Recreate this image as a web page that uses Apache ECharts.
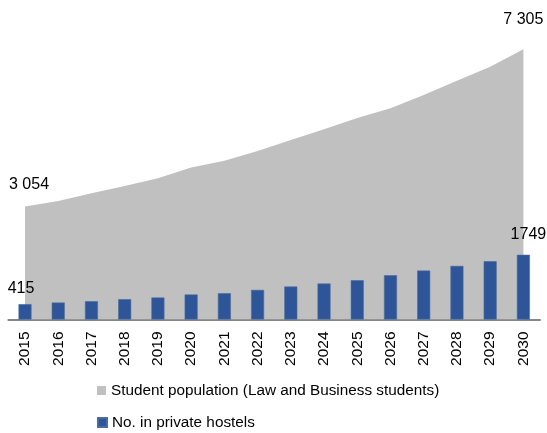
<!DOCTYPE html>
<html>
<head>
<meta charset="utf-8">
<script src="https://cdn.jsdelivr.net/npm/echarts@6/dist/echarts.min.js"></script>
<style>
html,body{margin:0;padding:0;background:#fff;}
#chart{width:547px;height:433px;}
</style>
</head>
<body>
<div id="chart"></div>
<script>
var years = ['2015','2016','2017','2018','2019','2020','2021','2022','2023','2024','2025','2026','2027','2028','2029','2030'];
var studentPopulation = [3054,3203,3410,3608,3816,4108,4292,4554,4851,5140,5446,5708,6068,6454,6832,7305];
var privateHostels = [415,459,495,549,595,676,711,800,892,973,1062,1197,1324,1449,1576,1749];
var seriesNames = ['Student population (Law and Business students)','No. in private hostels'];

function fmt(v){ return String(v).replace(/\B(?=(\d{3})+(?!\d))/g,' '); }

var areaData = studentPopulation.map(function(v,i){
  var item = {value:v};
  if(i===0){ item.label={show:true,position:'top',distance:14,offset:[4,0],formatter:function(p){return fmt(p.value);}}; }
  if(i===studentPopulation.length-1){ item.label={show:true,position:'top',distance:22,offset:[0,0],formatter:function(p){return fmt(p.value);}}; }
  return item;
});
var barData = privateHostels.map(function(v,i){
  var item = {value:v};
  if(i===0){ item.label={show:true,position:'top',distance:8,offset:[-4,0]}; }
  if(i===privateHostels.length-1){ item.label={show:true,position:'top',distance:12,offset:[5,0]}; }
  return item;
});

var legendText = {fontSize:15.3,color:'#000',fontFamily:'Liberation Sans, Arial, sans-serif'};
var chart = echarts.init(document.getElementById('chart'));
chart.setOption({
  animation:false,
  textStyle:{fontFamily:'Liberation Sans, Arial, sans-serif'},
  grid:{left:8.4,right:7,top:23.5,height:296,containLabel:false},
  xAxis:{
    type:'category',data:years,boundaryGap:true,
    axisLine:{show:true,lineStyle:{color:'#868686',width:2}},
    axisTick:{show:false},
    axisLabel:{rotate:90,margin:12,fontSize:15.5,color:'#000',fontFamily:'Liberation Sans, Arial, sans-serif'}
  },
  yAxis:{type:'value',min:0,max:8000,show:false,splitLine:{show:false}},
  legend:[
    {left:92,top:378,itemWidth:9,itemHeight:9,itemGap:4,textStyle:legendText,
     data:[{name:seriesNames[0],icon:'rect'}]},
    {left:92,top:410,itemWidth:9,itemHeight:9,itemGap:4,textStyle:legendText,
     data:[{name:seriesNames[1],icon:'rect'}]}
  ],
  series:[
    {
      name:seriesNames[0],type:'line',data:areaData,symbol:'circle',symbolSize:0.01,showSymbol:true,
      lineStyle:{width:0,color:'#c0c0c0'},itemStyle:{color:'#c0c0c0'},
      areaStyle:{color:'#c0c0c0',opacity:1},
      label:{show:false,color:'#000',fontSize:16},
      z:1
    },
    {
      name:seriesNames[1],type:'bar',data:barData,barWidth:13,
      itemStyle:{color:'#2e5597',borderColor:'#4a6ba4',borderWidth:0.6},
      label:{show:false,color:'#000',fontSize:16},
      z:3
    }
  ]
});
</script>
</body>
</html>
